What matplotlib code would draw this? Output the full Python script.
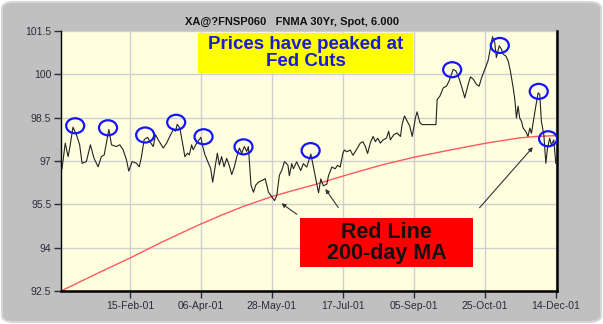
import matplotlib
matplotlib.use("Agg")
import matplotlib.pyplot as plt
from matplotlib.patches import Ellipse, Rectangle, FancyBboxPatch

# ── Data: FNMA 30Yr 6.000 spot price, trading-day index from 02-Jan-01 ──
day = [0.5, 2.1, 3.5, 4.3, 5.9, 7.6, 9.2, 10.4, 12.5, 14.5, 16.3, 18.3, 19.9, 21.3,
       23.6, 24.9, 27.3, 29.0, 30.6, 32.3, 33.4, 35.1, 37.2, 38.6, 39.7, 41.0, 42.7,
       44.3, 45.5, 46.6, 47.9, 50.4, 52.1, 53.7, 55.4, 56.5, 57.3, 58.6, 59.8, 61.1,
       62.4, 63.3, 64.4, 65.2, 66.9, 69.0, 69.7, 71.0, 72.7, 73.8, 74.8, 75.9, 77.1,
       78.1, 79.2, 80.4, 81.7, 82.9, 84.2, 85.5, 86.7, 88.0, 89.1, 90.4, 91.6, 92.4,
       93.7, 94.9, 96.0, 97.4, 99.3, 100.7, 102.3, 103.6, 105.3, 106.4, 107.7, 108.9,
       110.2, 111.9, 112.6, 113.8, 114.6, 116.2, 118.2, 119.5, 121.2, 123.2, 124.5,
       125.8, 127.0, 128.1, 129.4, 131.1, 131.9, 133.6, 135.2, 136.4, 137.7, 139.0,
       139.7, 141.0, 142.6, 144.0, 145.1, 147.6, 148.9, 150.1, 151.2, 152.5, 153.9,
       155.0, 156.2, 157.5, 158.8, 160.5, 161.6, 162.4, 164.1, 165.7, 167.4, 168.2,
       169.4, 170.7, 172.0, 173.2, 174.8, 175.6, 177.0, 178.1, 184.9, 185.5, 186.8,
       188.5, 190.1, 191.4, 193.4, 194.7, 195.9, 197.5, 199.1, 200.8, 201.9, 203.3,
       204.9, 206.2, 207.4, 209.0, 210.6, 211.8, 212.8, 213.9, 214.7, 216.1, 217.2,
       218.0, 219.3, 220.5, 221.6, 223.0, 223.8, 224.6, 225.4, 226.2, 227.1, 227.9,
       229.2, 230.3, 231.2, 232.0, 232.8, 234.0, 235.3, 236.1, 236.9, 238.1, 239.1,
       239.9, 241.0, 241.8, 243.0, 244.0]
price = [96.74, 97.62, 97.15, 97.45, 98.17, 97.91, 97.56, 96.92, 96.98, 97.56, 97.09,
         96.80, 97.15, 97.21, 98.09, 97.56, 97.50, 97.56, 97.39, 97.04, 96.65, 96.98,
         96.92, 96.80, 97.15, 97.74, 97.82, 97.62, 97.50, 97.91, 97.74, 97.45, 97.62,
         97.86, 98.09, 98.03, 98.27, 98.15, 97.68, 97.15, 97.27, 97.21, 97.56, 97.39,
         97.62, 97.82, 97.56, 97.21, 96.92, 96.74, 96.27, 96.74, 97.27, 96.86, 97.15,
         96.80, 97.09, 96.86, 96.53, 96.80, 97.15, 97.45, 97.27, 97.50, 97.33, 97.50,
         96.16, 95.92, 96.16, 96.27, 96.33, 96.39, 95.92, 95.80, 95.63, 95.80, 96.51,
         96.68, 96.98, 96.86, 96.49, 96.91, 96.73, 96.97, 96.67, 96.91, 96.79, 97.24,
         96.79, 96.32, 95.90, 96.38, 96.14, 96.20, 96.49, 96.79, 96.73, 96.85, 96.79,
         97.26, 97.38, 97.32, 97.38, 97.20, 97.32, 97.62, 97.67, 97.50, 97.26, 97.62,
         97.85, 97.67, 97.79, 97.62, 97.73, 97.79, 98.03, 97.73, 97.91, 97.97, 97.85,
         98.26, 98.56, 98.38, 98.21, 97.85, 98.50, 98.70, 98.32, 98.26, 98.26, 99.13,
         99.24, 99.53, 99.59, 99.77, 100.17, 100.12, 99.94, 99.59, 99.19, 99.65, 99.91,
         99.83, 99.65, 99.59, 99.88, 100.17, 100.47, 100.93, 101.30, 101.10, 100.58,
         100.99, 100.87, 100.70, 100.64, 100.47, 100.12, 99.53, 99.13, 98.49, 98.90,
         98.49, 98.37, 98.14, 98.02, 97.85, 98.14, 97.96, 98.31, 98.84, 99.36, 99.30,
         98.37, 97.91, 96.92, 97.44, 97.79, 97.56, 97.73, 96.92]

# 200-day moving average
ma_day = [0, 10, 20, 34, 42, 50, 60, 69, 80, 90, 104, 113, 124.5, 141, 157.5, 174,
          193.4, 209.8, 226.2, 234.4, 244.6]
ma_200 = [92.5, 92.84, 93.18, 93.64, 93.92, 94.2, 94.53, 94.82, 95.15, 95.43, 95.77,
          95.95, 96.17, 96.52, 96.85, 97.13, 97.4, 97.62, 97.8, 97.85, 97.88]

# circled peaks (day, price)
peak_day = [7.0, 23.2, 41.5, 56.8, 70.3, 90.0, 123.1, 192.9, 216.4, 235.6, 240.2]
peak_price = [98.22, 98.15, 97.90, 98.34, 97.84, 97.49, 97.36, 100.16, 101.0, 99.41, 97.77]

tick_days = [34, 69, 104, 139, 174, 209, 244]
tick_labels = ["15-Feb-01", "06-Apr-01", "28-May-01", "17-Jul-01",
               "05-Sep-01", "25-Oct-01", "14-Dec-01"]
y_ticks = [92.5, 94, 95.5, 97, 98.5, 100, 101.5]

plt.rcParams["font.family"] = ["Liberation Sans", "DejaVu Sans"]

W, H = 603, 324
fig = plt.figure(figsize=(W / 100, H / 100), dpi=100)
fig.patch.set_facecolor("white")

# rounded grey panel behind everything
panel = FancyBboxPatch((2 / W, 2 / H), 599 / W, 320 / H,
                       boxstyle="round,pad=0,rounding_size=0.02",
                       transform=fig.transFigure, facecolor="#c0c0c0",
                       edgecolor="#d6d6d6", linewidth=1.5, zorder=-10)
fig.patches.append(panel)

ax = fig.add_axes([61 / W, 1 - 291 / H, 496 / W, 260 / H])
ax.set_facecolor("#ffffe0")

ax.plot(ma_day, ma_200, color="#ff5a5a", linewidth=1.0, zorder=2)
ax.plot(day, price, color="#222222", linewidth=0.8, zorder=3)

for d, p in zip(peak_day, peak_price):
    ax.add_patch(Ellipse((d, p), width=8.9, height=0.52, fill=False,
                         edgecolor="#1414ff", linewidth=1.6, zorder=4))

ax.set_xlim(0, 244.6)
ax.set_ylim(92.5, 101.5)
ax.set_xticks(tick_days)
ax.set_xticklabels(tick_labels)
ax.set_yticks(y_ticks)
ax.set_yticklabels(["%g" % v for v in y_ticks])
ax.grid(True, color="#cfcfcf", linewidth=1.0, zorder=0)
ax.set_axisbelow(True)
ax.tick_params(direction="out", length=5, width=1, labelsize=7.5,
               colors="#2b2b3b", pad=2)

ax.spines["top"].set_visible(False)
ax.spines["left"].set_linewidth(1.0)
ax.spines["bottom"].set_linewidth(1.8)
ax.spines["right"].set_linewidth(1.8)

fig.text(292 / W, 1 - 22 / H, "XA@?FNSP060   FNMA 30Yr, Spot, 6.000",
         ha="center", va="center", fontsize=8, fontweight="bold", color="#111111")

# callout boxes
fig.patches.append(Rectangle((198 / W, 1 - 73 / H), 215 / W, 40 / H,
                             transform=fig.transFigure, facecolor="#ffff00",
                             edgecolor="none", zorder=5))
fig.text(305.5 / W, 1 - 53.3 / H, "Prices have peaked at\nFed Cuts",
         ha="center", va="center", fontsize=13.5, fontweight="bold",
         color="#1a1ad8", linespacing=1.0, zorder=6)

fig.patches.append(Rectangle((300 / W, 1 - 267 / H), 173 / W, 49 / H,
                             transform=fig.transFigure, facecolor="#ff0000",
                             edgecolor="none", zorder=5))
fig.text(386.5 / W, 1 - 242.7 / H, "Red Line\n200-day MA",
         ha="center", va="center", fontsize=15.5, fontweight="bold",
         color="#111111", linespacing=1.0, zorder=6)

arrow = dict(arrowstyle="-|>", color="#333333", lw=0.8, mutation_scale=6)
ax.annotate("", xy=(107.6, 95.59), xytext=(117.4, 95.1), arrowprops=arrow)
ax.annotate("", xy=(129.6, 96.11), xytext=(137.5, 95.31), arrowprops=arrow)
ax.annotate("", xy=(233.6, 97.55), xytext=(205.5, 95.31), arrowprops=arrow)

fig.savefig("out.png", dpi=100)
